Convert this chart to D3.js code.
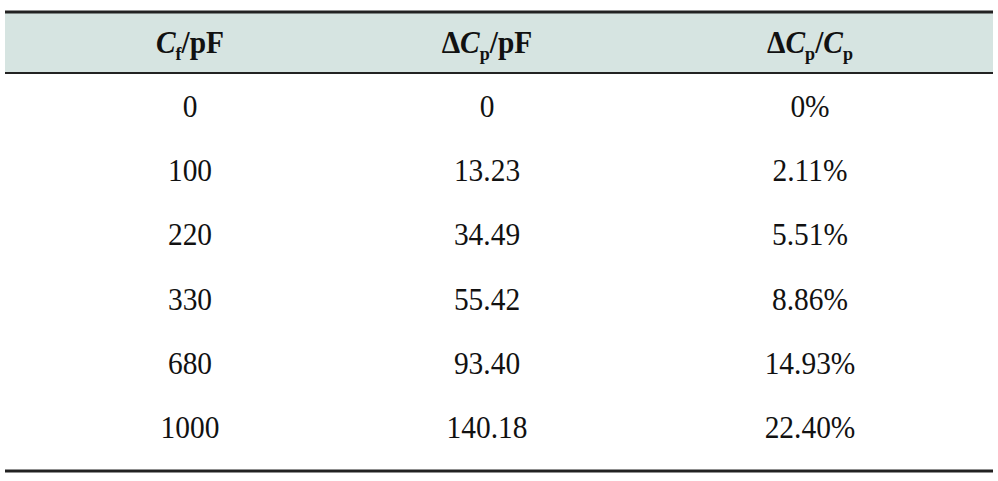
<!DOCTYPE html>
<html><head><meta charset="utf-8">
<script src="https://cdn.jsdelivr.net/npm/d3@7"></script>
<style>body{margin:0;background:#fff}</style></head>
<body><svg id="c" width="998" height="481"></svg>
<script>
const cf = ["0","100","220","330","680","1000"];
const dcp = ["0","13.23","34.49","55.42","93.40","140.18"];
const ratio = ["0%","2.11%","5.51%","8.86%","14.93%","22.40%"];
const headers = [
  [["C","i"],["f","s"],["/pF","r"]],
  [["\u0394",""],["C","i"],["p","s"],["/pF","r"]],
  [["\u0394",""],["C","i"],["p","s"],["/","r"],["C","i"],["p","s"]]
];
const svg = d3.select("#c");
const colX = d3.scaleOrdinal().domain([0,1,2]).range([190,487,810]);
const rowY = d3.scaleLinear().domain([0,5]).range([106,427]);
svg.append("rect").attr("x",5).attr("y",12).attr("width",988).attr("height",61).attr("fill","#d6e4e1");
[12,73,471].forEach(y=>svg.append("line").attr("x1",5).attr("x2",993).attr("y1",y).attr("y2",y)
  .attr("stroke","#222").attr("stroke-width",y===73?2.2:2.8));
const font = "'Liberation Serif','Times New Roman',serif";
function place(t,x,y){ t.attr("transform",`translate(${x},${y}) scale(0.95,1)`); }
headers.forEach((h,i)=>{
  const t = svg.append("text").attr("text-anchor","middle").attr("font-family",font)
    .attr("font-size",31).attr("font-weight","bold").attr("fill","#111");
  place(t,colX(i),53);
  h.forEach(([s,k],j)=>{
    const sp=t.append("tspan").text(s);
    if(k==="i") sp.attr("font-style","italic");
    if(k==="s") sp.attr("font-size",19).attr("dy",7);
    if(j>0 && h[j-1][1]==="s") sp.attr("dy",-7);
  });
});
[cf,dcp,ratio].forEach((col,i)=>{
  col.forEach((v,j)=>{
    const t=svg.append("text").attr("text-anchor","middle").attr("font-family",font)
      .attr("font-size",31).attr("fill","#111").text(v);
    place(t,colX(i),rowY(j)+11);
  });
});
</script></body></html>
